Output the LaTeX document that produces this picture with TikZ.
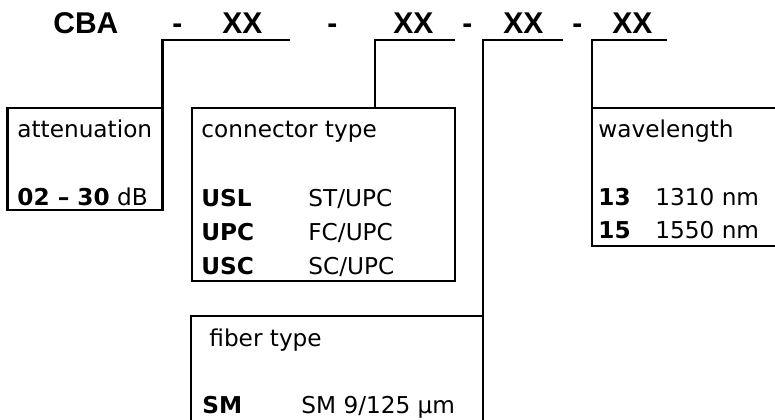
\documentclass[tikz,border=0pt]{standalone}
\usepackage{fontspec}
\setmainfont{DejaVu Sans}
\newfontfamily\titlefont{Liberation Sans}
\begin{document}
\begin{tikzpicture}[x=0.75pt,y=-0.75pt,line width=2.1pt,
  ttl/.style={font=\titlefont\bfseries\fontsize{22.5}{27}\selectfont,inner sep=0pt,anchor=base west},
  txt/.style={font=\fontsize{17.4}{20}\selectfont,inner sep=0pt,anchor=base west},
  bx/.style={draw,line width=2.1pt,inner sep=0pt,outer sep=0pt}]
\clip (0,0) rectangle (775,419);
\fill[white] (0,0) rectangle (775,419);
% title
\node[ttl] (cba) at (52,33) {CBA};
\node[ttl] (d1) at (171,33) {-};
\node[ttl] (x1) at (221,33) {XX};
\node[ttl] (d2) at (326,33) {-};
\node[ttl] (x2) at (392,33) {XX};
\node[ttl] (d3) at (461,33) {-};
\node[ttl] (x3) at (502,33) {XX};
\node[ttl] (d4) at (571,33) {-};
\node[ttl] (x4) at (611,33) {XX};
% boxes
\node[bx,minimum width=116.25pt,minimum height=76.5pt] (att) at (84.75,159) {};
\node[bx,minimum width=197.25pt,minimum height=129.75pt] (con) at (323.5,194.5) {};
\node[bx,minimum width=156pt,minimum height=103.5pt] (wav) at (696,177) {};
\node[bx,minimum width=219pt,minimum height=93pt] (fib) at (337,378) {};
% underline coordinates
\coordinate (u1b) at (290,40);
\coordinate (u1a) at (att.north east |- u1b);
\coordinate (u2a) at (375,40);   \coordinate (u2b) at (455,40);
\coordinate (u3b) at (563,40);
\coordinate (u3a) at (fib.north east |- u3b);
\coordinate (u4b) at (667,40);
\coordinate (u4a) at (wav.north west |- u4b);
% connectors
\draw (u1b) -- (u1a) -- (att.north east);
\draw (u2b) -- (u2a) -- (u2a |- con.north);
\draw (u3b) -- (u3a) -- (fib.north east);
\draw (u4b) -- (u4a) -- (wav.north west);
% texts
\node[txt] (attT) at (16,137) {attenuation};
\node[txt] (attV) at (16,205) {\textbf{02 -- 30} dB};
\node[txt] (conT) at (200,137) {connector type};
\node[txt] (c1a) at (200,206) {\textbf{USL}};
\node[txt] (c1b) at (307,206) {ST/UPC};
\node[txt] (c2a) at (200,240) {\textbf{UPC}};
\node[txt] (c2b) at (307,240) {FC/UPC};
\node[txt] (c3a) at (200,274) {\textbf{USC}};
\node[txt] (c3b) at (307,274) {SC/UPC};
\node[txt] (wavT) at (597,137) {wavelength};
\node[txt] (w1a) at (597,205) {\textbf{13}};
\node[txt] (w1b) at (654,205) {1310 nm};
\node[txt] (w2a) at (597,238) {\textbf{15}};
\node[txt] (w2b) at (654,238) {1550 nm};
\node[txt] (fibT) at (208,346) {fiber type};
\node[txt] (f1a) at (201,413) {\textbf{SM}};
\node[txt] (f1b) at (300,413) {SM 9/125 µm};
\end{tikzpicture}
\end{document}
